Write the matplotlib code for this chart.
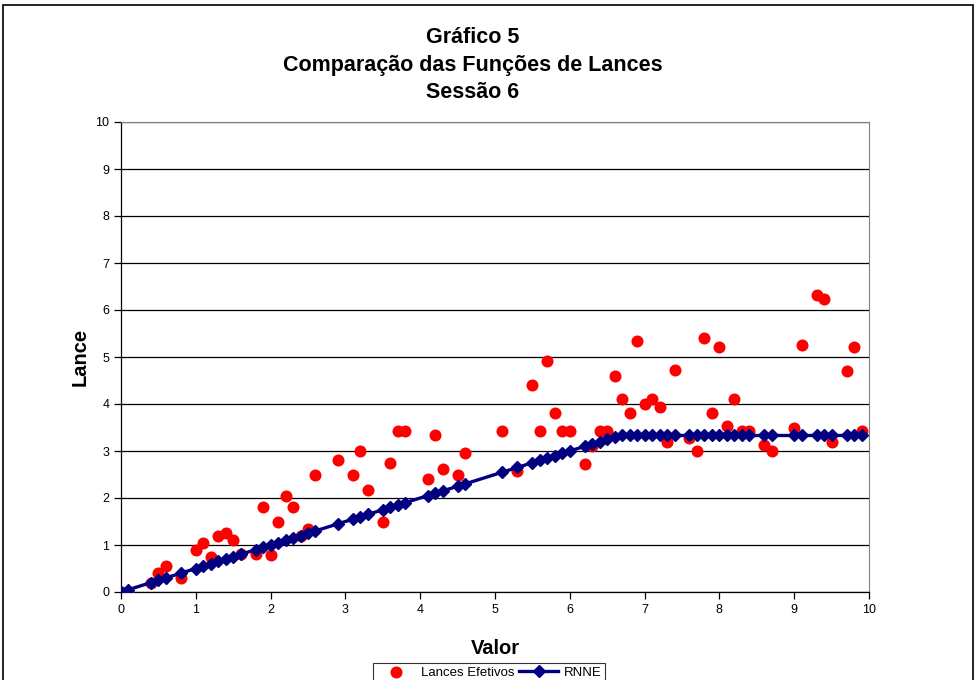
import matplotlib.pyplot as plt
from matplotlib.patches import Rectangle

plt.rcParams['font.family'] = ['Liberation Sans', 'DejaVu Sans']

# valores (eixo x) comuns às duas séries
valor = [0, 0.1, 0.4, 0.5, 0.6, 0.8, 1.0, 1.1, 1.2, 1.3, 1.4, 1.5, 1.6, 1.8, 1.9,
         2.0, 2.1, 2.2, 2.3, 2.4, 2.5, 2.6, 2.9, 3.1, 3.2, 3.3, 3.5, 3.6, 3.7, 3.8,
         4.1, 4.2, 4.3, 4.5, 4.6, 5.1, 5.3, 5.5, 5.6, 5.7, 5.8, 5.9, 6.0, 6.2, 6.3,
         6.4, 6.5, 6.6, 6.7, 6.8, 6.9, 7.0, 7.1, 7.2, 7.3, 7.4, 7.6, 7.7, 7.8, 7.9,
         8.0, 8.1, 8.2, 8.3, 8.4, 8.6, 8.7, 9.0, 9.1, 9.3, 9.4, 9.5, 9.7, 9.8, 9.9]

# lances efetivos
lances = [0, 0, 0.2, 0.4, 0.55, 0.3, 0.9, 1.05, 0.75, 1.2, 1.25, 1.1, 0.8, 0.8, 1.8,
          0.78, 1.5, 2.05, 1.8, 1.2, 1.33, 2.5, 2.8, 2.5, 3.0, 2.18, 1.5, 2.75, 3.42, 3.42,
          2.4, 3.35, 2.62, 2.5, 2.95, 3.42, 2.58, 4.4, 3.42, 4.92, 3.8, 3.42, 3.42, 2.72, 3.1,
          3.42, 3.42, 4.6, 4.1, 3.8, 5.35, 4.0, 4.1, 3.93, 3.2, 4.72, 3.28, 3.0, 5.4, 3.8,
          5.21, 3.53, 4.1, 3.42, 3.42, 3.12, 3.0, 3.5, 5.26, 6.32, 6.24, 3.2, 4.7, 5.21, 3.42]

# RNNE
rnne = [0, 0.05, 0.2, 0.25, 0.3, 0.4, 0.5, 0.55, 0.6, 0.65, 0.7, 0.75, 0.8, 0.9, 0.95,
        1.0, 1.05, 1.1, 1.15, 1.2, 1.25, 1.3, 1.45, 1.55, 1.6, 1.65, 1.75, 1.8, 1.85, 1.9,
        2.05, 2.1, 2.15, 2.25, 2.3, 2.55, 2.65, 2.75, 2.8, 2.85, 2.9, 2.95, 3.0, 3.1, 3.15,
        3.2, 3.25, 3.3, 3.33, 3.33, 3.33, 3.33, 3.33, 3.33, 3.33, 3.33, 3.33, 3.33, 3.33, 3.33,
        3.33, 3.33, 3.33, 3.33, 3.33, 3.33, 3.33, 3.33, 3.33, 3.33, 3.33, 3.33, 3.33, 3.33, 3.33]

fig = plt.figure(figsize=(9.76, 6.8), dpi=100)
ax = fig.add_axes([121 / 976, 1 - 592 / 680, 748 / 976, 470 / 680])

# moldura externa do gráfico
fig.patches.append(Rectangle((3 / 976, -0.05), 970 / 976, 1.05 - 5 / 680,
                             transform=fig.transFigure, fill=False,
                             edgecolor='black', linewidth=1.2))

ax.scatter(valor, lances, s=75, color='#ff0000', zorder=3, label='Lances Efetivos',
           linewidths=0)
ax.plot(valor, rnne, color='#000080', linewidth=2.4, marker='D', markersize=6.5,
        zorder=4, label='RNNE')

ax.set_xlim(0, 10)
ax.set_ylim(0, 10)
ax.set_xticks(range(0, 11))
ax.set_yticks(range(0, 11))
ax.yaxis.grid(True, color='black', linewidth=0.9)
ax.set_axisbelow(True)
ax.tick_params(direction='out', length=5, labelsize=9, width=0.9)
for side in ['top', 'right']:
    ax.spines[side].set_color('#808080')
ax.spines['left'].set_linewidth(0.9)
ax.spines['bottom'].set_linewidth(0.9)

ax.set_xlabel('Valor', fontsize=14.5, fontweight='bold', labelpad=17)
ax.set_ylabel('Lance', fontsize=14.5, fontweight='bold', labelpad=4)

fig.text(473 / 976, 1 - 65 / 680, 'Gráfico 5\nComparação das Funções de Lances\nSessão 6',
         ha='center', va='center', fontsize=15.5, fontweight='bold', linespacing=1.42)

leg = fig.legend(loc='upper center', bbox_to_anchor=(489 / 976, 1 - 656 / 680), ncol=2,
                 fontsize=9.5, frameon=True, fancybox=False, edgecolor='black',
                 handlelength=3, columnspacing=0.3, handletextpad=0.4,
                 borderpad=0.3)
leg.get_frame().set_linewidth(0.8)

plt.savefig('out.png', dpi=100)
